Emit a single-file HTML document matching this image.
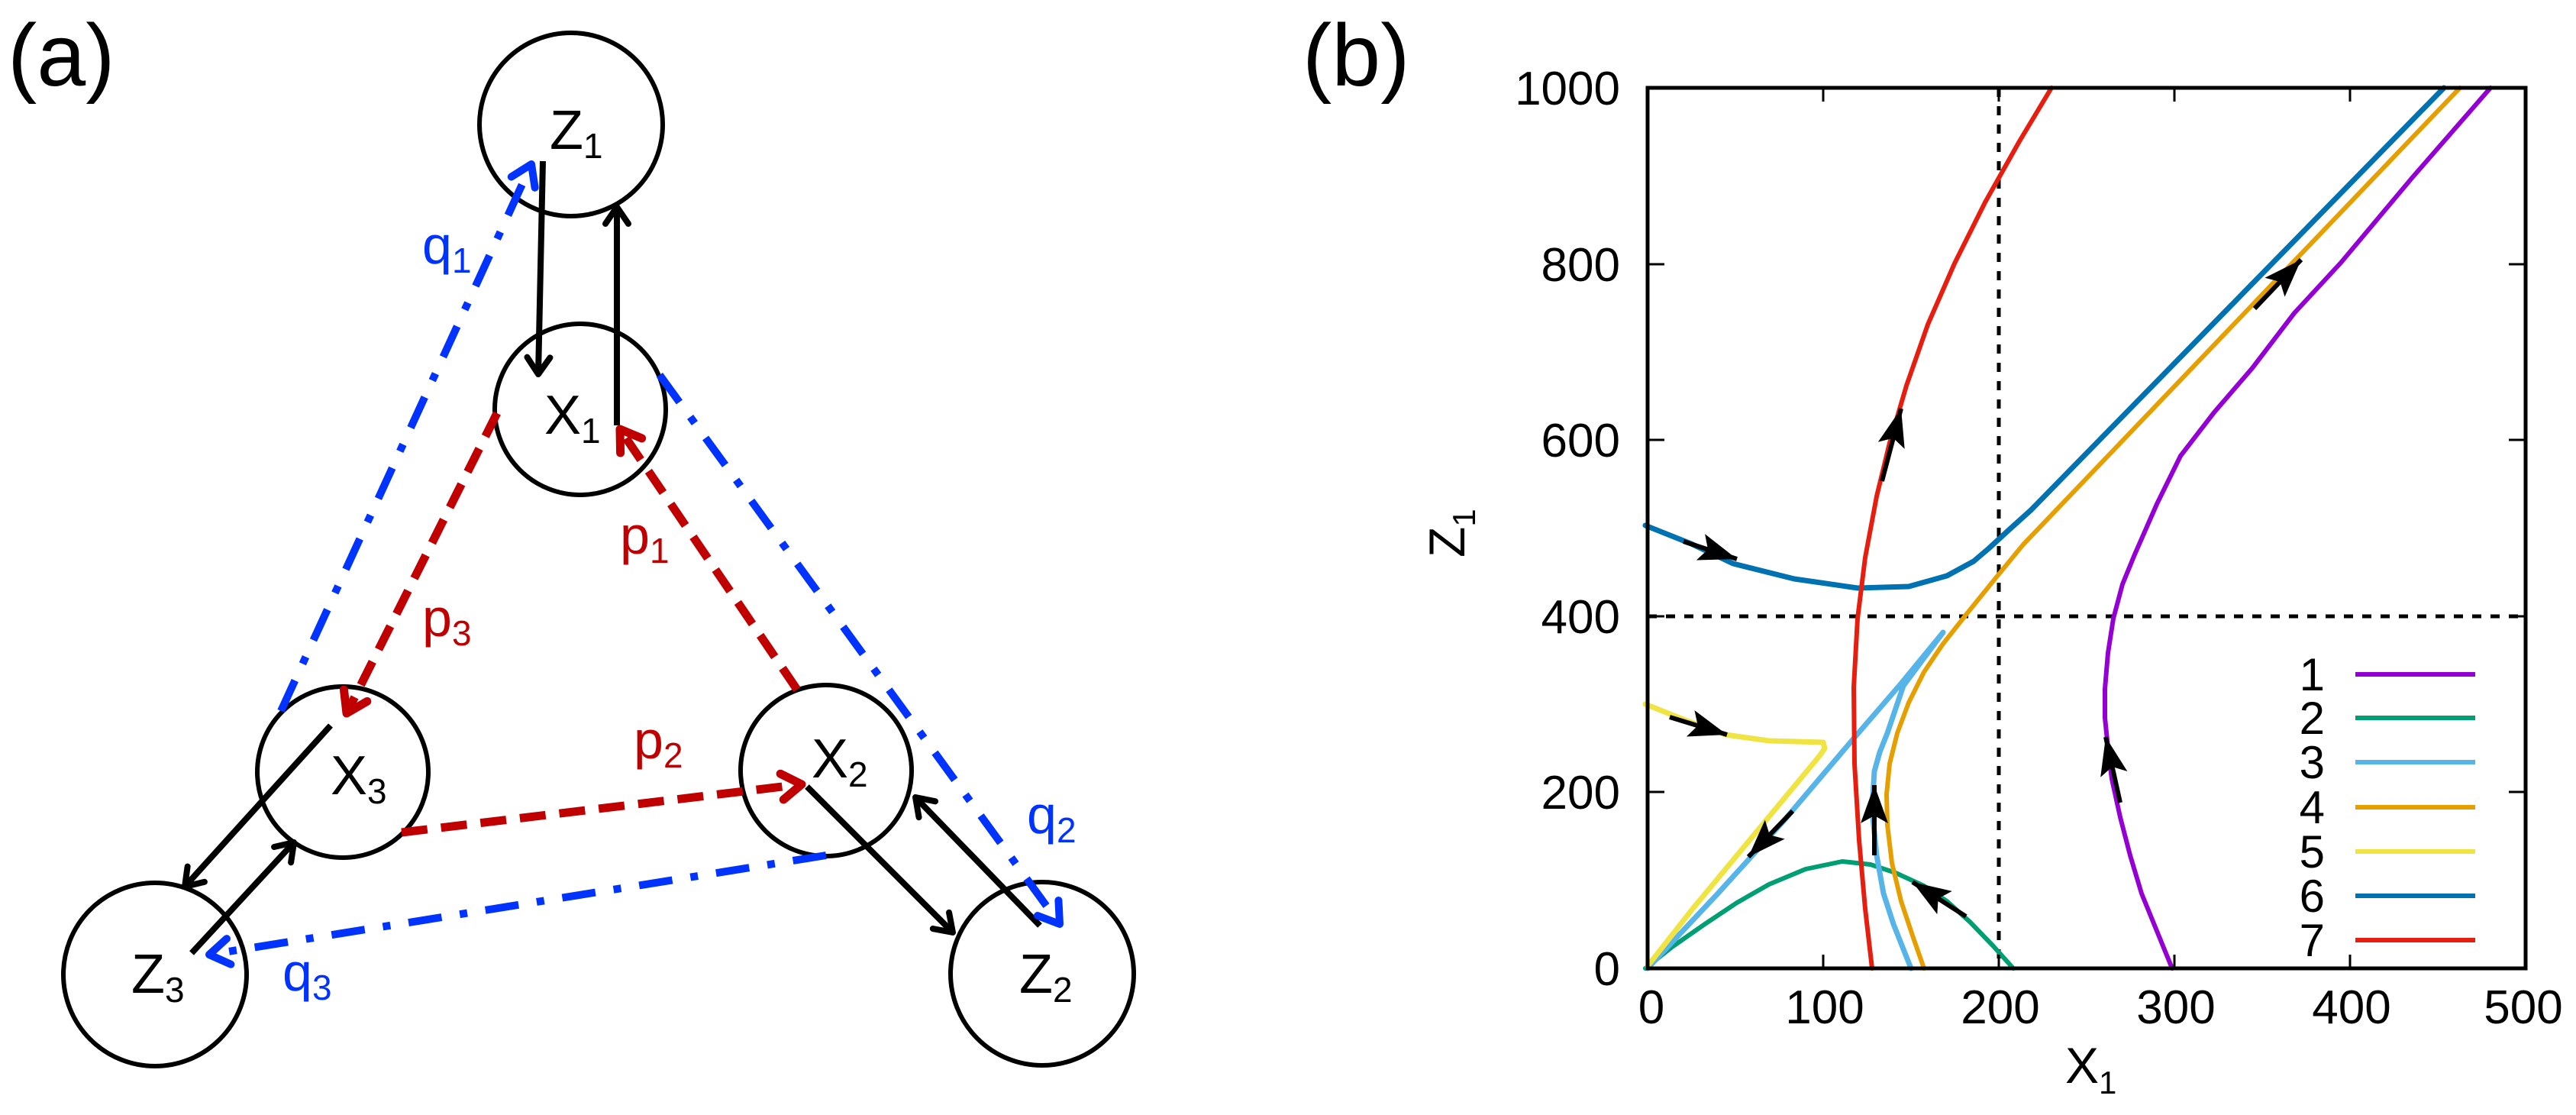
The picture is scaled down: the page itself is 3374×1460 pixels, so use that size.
<!DOCTYPE html>
<html><head><meta charset="utf-8"><style>
html,body{margin:0;padding:0;background:#fff}
svg{display:block}
text{font-family:"Liberation Sans",sans-serif}
</style></head><body>
<svg width="3374" height="1460" viewBox="0 0 3374 1460" xmlns="http://www.w3.org/2000/svg">
<defs>
<marker id="kb" markerUnits="userSpaceOnUse" markerWidth="60" markerHeight="60" refX="32" refY="30" orient="auto" viewBox="0 0 60 60"><path d="M10,15 L32,30 L10,45" fill="none" stroke="#000" stroke-width="8" stroke-linecap="round" stroke-linejoin="round"/></marker>
<marker id="rd" markerUnits="userSpaceOnUse" markerWidth="60" markerHeight="60" refX="34" refY="30" orient="auto" viewBox="0 0 60 60"><path d="M8,13 L34,30 L8,47" fill="none" stroke="#c00000" stroke-width="11" stroke-linecap="round" stroke-linejoin="round"/></marker>
<marker id="bl" markerUnits="userSpaceOnUse" markerWidth="60" markerHeight="60" refX="34" refY="30" orient="auto" viewBox="0 0 60 60"><path d="M8,13 L34,30 L8,47" fill="none" stroke="#0033ff" stroke-width="10" stroke-linecap="round" stroke-linejoin="round"/></marker>
<marker id="fa" markerUnits="userSpaceOnUse" markerWidth="70" markerHeight="50" refX="50" refY="25" orient="auto" viewBox="0 0 70 50"><path d="M0,7 L50,25 L0,43 L10,25 Z" fill="#000"/></marker>
</defs>

<!-- Panel (a) -->
<text x="10" y="112" font-size="115">(a)</text>
<g fill="none" stroke="#000" stroke-width="6">
<circle cx="748" cy="163" r="120"/>
<circle cx="760" cy="536" r="112"/>
<circle cx="449" cy="1011" r="112"/>
<circle cx="1082" cy="1009" r="112"/>
<circle cx="203" cy="1276" r="120"/>
<circle cx="1365" cy="1275" r="120"/>
</g>
<g font-size="72" fill="#000">
<text x="720" y="195">Z<tspan font-size="46" dy="12">1</tspan></text>
<text x="713" y="568">X<tspan font-size="46" dy="12">1</tspan></text>
<text x="433" y="1040">X<tspan font-size="46" dy="12">3</tspan></text>
<text x="1063" y="1018">X<tspan font-size="46" dy="12">2</tspan></text>
<text x="172" y="1300">Z<tspan font-size="46" dy="12">3</tspan></text>
<text x="1335" y="1300">Z<tspan font-size="46" dy="12">2</tspan></text>
</g>
<g stroke="#000" stroke-width="8" fill="none">
<line x1="711" y1="211" x2="705" y2="490" marker-end="url(#kb)"/>
<line x1="808" y1="557" x2="808" y2="271" marker-end="url(#kb)"/>
<line x1="433" y1="950" x2="242" y2="1161" marker-end="url(#kb)"/>
<line x1="251" y1="1248" x2="385" y2="1103" marker-end="url(#kb)"/>
<line x1="1057" y1="1030" x2="1248" y2="1221" marker-end="url(#kb)"/>
<line x1="1362" y1="1212" x2="1199" y2="1044" marker-end="url(#kb)"/>
</g>
<g stroke="#c00000" stroke-width="11" fill="none" stroke-dasharray="34 18">
<line x1="1044" y1="903" x2="812" y2="562" marker-end="url(#rd)"/>
<line x1="651" y1="541" x2="454" y2="934" marker-end="url(#rd)"/>
<line x1="526" y1="1090" x2="1050" y2="1027" marker-end="url(#rd)"/>
</g>
<g stroke="#0033ff" stroke-width="10" fill="none" stroke-dasharray="44 24 10 24">
<line x1="368" y1="931" x2="696" y2="215" marker-end="url(#bl)"/>
<line x1="864" y1="491" x2="1388" y2="1210" marker-end="url(#bl)"/>
<line x1="1082" y1="1120" x2="274" y2="1250" marker-end="url(#bl)"/>
</g>
<g font-size="70" fill="#c00000">
<text x="812" y="725">p<tspan font-size="46" dy="12">1</tspan></text>
<text x="553" y="833">p<tspan font-size="46" dy="12">3</tspan></text>
<text x="830" y="993">p<tspan font-size="46" dy="12">2</tspan></text>
</g>
<g font-size="70" fill="#0033ff">
<text x="553" y="345">q<tspan font-size="46" dy="12">1</tspan></text>
<text x="1345" y="1091">q<tspan font-size="46" dy="12">2</tspan></text>
<text x="370" y="1297">q<tspan font-size="46" dy="12">3</tspan></text>
</g>

<!-- Panel (b) -->
<text x="1706" y="112" font-size="115">(b)</text>
<g stroke="#000" stroke-width="5" stroke-dasharray="12 12">
<line x1="2618" y1="115" x2="2618" y2="1268"/>
<line x1="2158" y1="807" x2="3308" y2="807"/>
</g>
<g fill="none" stroke-width="6" stroke-linejoin="round" stroke-linecap="round">
<polyline stroke="#9400d3" points="2845,1268 2805,1170 2790,1120 2777,1070 2766,1020 2761,979 2757,940 2757,902 2761,855 2768,810 2780,765 2796,726 2825,660 2856,597 2900,540 2950,482 3005,410 3066,344 3160,232 3262,115"/>
<polyline stroke="#009e73" points="2155,1268 2190,1240 2233,1210 2275,1182 2317,1158 2365,1138 2413,1128 2450,1132 2483,1143 2520,1160 2550,1180 2580,1207 2610,1238 2637,1268"/>
<polyline stroke="#56b4e9" stroke-width="7" points="2503,1268 2480,1210 2467,1170 2458,1120 2452,1060 2455,1010 2462,985 2472,960 2493,898 2545,828 2490,895 2427,968 2337,1074 2250,1170 2158,1268"/>
<polyline stroke="#e69f00" points="2520,1268 2505,1225 2490,1180 2478,1130 2472,1080 2471,1040 2475,1000 2485,960 2500,920 2520,880 2545,843 2575,805 2613,758 2650,713 3222,115"/>
<polyline stroke="#f0e442" stroke-width="7" points="2155,922 2210,944 2260,962 2317,970 2388,972 2390,980 2383,990 2300,1090 2217,1190 2158,1265"/>
<polyline stroke="#0072b2" stroke-width="7" points="2155,688 2215,712 2270,738 2350,758 2433,770 2500,768 2550,754 2585,735 2605,718 2630,695 2660,668 3201,115"/>
<polyline stroke="#e51e10" points="2687,115 2645,185 2600,265 2560,345 2525,425 2497,505 2475,580 2458,650 2443,730 2433,810 2428,900 2429,1000 2435,1100 2443,1190 2452,1268"/>
</g>
<g stroke="#000" stroke-width="6" fill="none">
<line x1="2205" y1="709" x2="2275" y2="732" marker-end="url(#fa)"/>
<line x1="2187" y1="939" x2="2262" y2="962" marker-end="url(#fa)"/>
<line x1="2348" y1="1062" x2="2290" y2="1122" marker-end="url(#fa)"/>
<line x1="2455" y1="1120" x2="2455" y2="1028" marker-end="url(#fa)"/>
<line x1="2575" y1="1200" x2="2505" y2="1155" marker-end="url(#fa)"/>
<line x1="2465" y1="630" x2="2490" y2="535" marker-end="url(#fa)"/>
<line x1="2953" y1="404" x2="3014" y2="340" marker-end="url(#fa)"/>
<line x1="2777" y1="1051" x2="2758" y2="965" marker-end="url(#fa)"/>
</g>
<rect x="2158" y="115" width="1150" height="1153" fill="none" stroke="#000" stroke-width="5"/>
<g stroke="#000" stroke-width="3">
<line x1="2388" y1="1268" x2="2388" y2="1250"/><line x1="2388" y1="115" x2="2388" y2="133"/>
<line x1="2618" y1="1268" x2="2618" y2="1250"/><line x1="2618" y1="115" x2="2618" y2="133"/>
<line x1="2848" y1="1268" x2="2848" y2="1250"/><line x1="2848" y1="115" x2="2848" y2="133"/>
<line x1="3078" y1="1268" x2="3078" y2="1250"/><line x1="3078" y1="115" x2="3078" y2="133"/>
<line x1="2158" y1="1037" x2="2180" y2="1037"/><line x1="3308" y1="1037" x2="3286" y2="1037"/>
<line x1="2158" y1="807" x2="2180" y2="807"/><line x1="3308" y1="807" x2="3286" y2="807"/>
<line x1="2158" y1="576" x2="2180" y2="576"/><line x1="3308" y1="576" x2="3286" y2="576"/>
<line x1="2158" y1="346" x2="2180" y2="346"/><line x1="3308" y1="346" x2="3286" y2="346"/>
</g>
<g font-size="62" text-anchor="end">
<text x="2122" y="137">1000</text>
<text x="2122" y="368">800</text>
<text x="2122" y="598">600</text>
<text x="2122" y="829">400</text>
<text x="2122" y="1059">200</text>
<text x="2122" y="1290">0</text>
</g>
<g font-size="62" text-anchor="middle">
<text x="2163" y="1340">0</text>
<text x="2390" y="1340">100</text>
<text x="2620" y="1340">200</text>
<text x="2850" y="1340">300</text>
<text x="3080" y="1340">400</text>
<text x="3305" y="1340">500</text>
</g>
<text x="2705" y="1418" font-size="66">X<tspan font-size="42" dy="14">1</tspan></text>
<text transform="translate(1918,730) rotate(-90)" font-size="66">Z<tspan font-size="42" dy="14">1</tspan></text>
<g font-size="60" text-anchor="end">
<text x="3045" y="904">1</text>
<text x="3045" y="961">2</text>
<text x="3045" y="1019">3</text>
<text x="3045" y="1078">4</text>
<text x="3045" y="1136">5</text>
<text x="3045" y="1194">6</text>
<text x="3045" y="1252">7</text>
</g>
<g stroke-width="6">
<line x1="3085" y1="883" x2="3242" y2="883" stroke="#9400d3"/>
<line x1="3085" y1="940" x2="3242" y2="940" stroke="#009e73"/>
<line x1="3085" y1="998" x2="3242" y2="998" stroke="#56b4e9"/>
<line x1="3085" y1="1057" x2="3242" y2="1057" stroke="#e69f00"/>
<line x1="3085" y1="1115" x2="3242" y2="1115" stroke="#f0e442"/>
<line x1="3085" y1="1173" x2="3242" y2="1173" stroke="#0072b2"/>
<line x1="3085" y1="1231" x2="3242" y2="1231" stroke="#e51e10"/>
</g>
</svg>
</body></html>
